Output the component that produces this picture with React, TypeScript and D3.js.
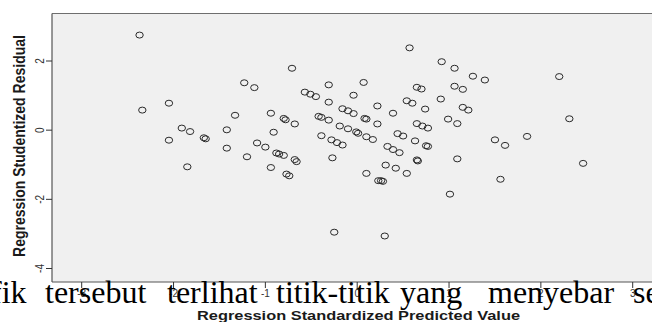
import * as d3 from 'd3'

// Standardized predicted value (x) and studentized residual (y)
const predicted = [
  -2.37, -2.34, -2.05, -2.05, -1.91, -1.82, -1.85, -1.67, -1.65, -1.42,
  -1.42, -1.33, -1.23, -1.12, -1.2, -1.09, -1.0, -0.94, -0.91, -0.94,
  -0.88, -0.85, -0.8, -0.8, -0.78, -0.68, -0.68, -0.66, -0.77, -0.74,
  -0.71, -0.57, -0.51, -0.45, -0.42, -0.39, -0.31, -0.39, -0.31, -0.31,
  -0.28, -0.22, -0.16, -0.27, -0.25, -0.19, -0.1, -0.16, -0.1, -0.04,
  -0.04, -0.01, 0.01, 0.07, 0.08, 0.1, 0.1, 0.17, 0.1, 0.22,
  0.22, 0.23, 0.26, 0.28, 0.31, 0.3, 0.33, 0.39, 0.46, 0.39,
  0.42, 0.44, 0.5, 0.54, 0.6, 0.57, 0.54, 0.63, 0.65, 0.7,
  0.65, 0.71, 0.77, 0.65, 0.66, 0.74, 0.75, 0.77, 0.92, 0.91,
  0.99, 1.09, 1.01, 1.06, 1.06, 1.15, 1.15, 1.21, 1.09, 1.26,
  1.39, 1.5, 1.61, 1.56, 1.85, 2.2, 2.31, 2.46,
]
const residual = [
  2.75, 0.58, 0.78, -0.29, 0.06, -0.04, -1.06, -0.22, -0.25, 0.01,
  -0.52, 0.43, 1.37, 1.23, -0.77, -0.37, -0.49, 0.49, -0.06, -1.08,
  -0.66, -0.69, -0.73, 0.34, 0.3, 0.18, -0.85, -0.91, -1.27, -1.32,
  1.79, 1.1, 1.04, 0.97, 0.4, 0.37, 0.29, -0.16, 1.31, 0.81,
  -0.28, -0.36, -0.43, -0.8, -2.95, 0.12, 0.04, 0.62, 0.56, 0.48,
  1.01, -0.05, -0.09, 1.38, 0.34, 0.32, -0.19, -0.27, -1.25, 0.7,
  0.18, -1.46, -1.46, -1.48, -1.01, -3.06, -0.47, -0.56, -0.65, 0.49,
  -1.1, -0.1, -0.17, 0.85, 0.78, 2.38, -1.25, -0.31, 1.24, 1.19,
  0.19, 0.12, 0.06, -0.86, -0.89, 0.61, -0.45, -0.47, 1.98, 0.9,
  0.32, 0.19, -1.85, 1.79, 1.27, 1.18, 0.66, 0.58, -0.83, 1.56,
  1.45, -0.28, -0.44, -1.42, -0.18, 1.55, 0.33, -0.96,
]
const xTicks = [-3, -2, -1, 0, 1, 2, 3]
const yTicks = [-4, -2, 0, 2]

// document text that sits over the bottom of the screenshot
const overlayWords = ['fik', 'tersebut', 'terlihat', 'titik-titik', 'yang', 'menyebar', 'se']
const overlayX = [-9, 45, 167, 276, 400, 488, 633]

const W = 652
const H = 322
const plot = { left: 52, right: 660, top: 13.5, bottom: 282 }

export default function App() {
  const x = d3.scaleLinear().domain([-3, 3]).range([81.7, 632.7])
  const y = d3.scaleLinear().domain([-4, 2]).range([268.5, 61])
  const pts = predicted.map((p, i) => ({ p, r: residual[i] }))

  return (
    <svg
      width={W}
      height={H}
      style={{ position: 'absolute', left: 0, top: 0, background: '#fff' }}
      fontFamily="'Liberation Sans', Arial, sans-serif"
    >
      <rect
        x={plot.left}
        y={plot.top}
        width={plot.right - plot.left}
        height={plot.bottom - plot.top}
        fill="#f0f0f0"
      />
      <line x1={plot.left} x2={plot.right} y1={plot.top} y2={plot.top} stroke="#6e6e6e" strokeWidth={1.2} />
      <line x1={plot.left} x2={plot.left} y1={plot.top} y2={plot.bottom} stroke="#555" strokeWidth={1.2} />
      <line x1={plot.left} x2={plot.right} y1={plot.bottom} y2={plot.bottom} stroke="#555" strokeWidth={1.2} />

      {/* markers are a little wider than tall: the screenshot was stretched sideways */}
      {pts.map((d, i) => (
        <ellipse
          key={i}
          cx={x(d.p)}
          cy={y(d.r)}
          rx={3.7}
          ry={3}
          fill="none"
          stroke="#2a2a2a"
          strokeWidth={1}
        />
      ))}

      {yTicks.map((t) => (
        <g key={t}>
          <line x1={plot.left - 6} x2={plot.left} y1={y(t)} y2={y(t)} stroke="#333" />
          <text
            transform={`translate(44,${y(t)}) rotate(-90) scale(1,1.2)`}
            textAnchor="middle"
            fontSize={10}
            fill="#333"
          >
            {t}
          </text>
        </g>
      ))}

      {xTicks.map((t) => (
        <g key={t}>
          <line x1={x(t)} x2={x(t)} y1={plot.bottom} y2={plot.bottom + 6} stroke="#333" />
          <text x={x(t)} y={297} textAnchor="middle" fontSize={10} fill="#333">
            {t}
          </text>
        </g>
      ))}

      <text
        transform="translate(25,146) rotate(-90) scale(1,1.2)"
        textAnchor="middle"
        fontSize={13.5}
        fontWeight="bold"
        fill="#1a1a1a"
        textLength={222}
        lengthAdjust="spacingAndGlyphs"
      >
        Regression Studentized Residual
      </text>
      <text
        x={197}
        y={319.5}
        fontSize={12.5}
        fontWeight="bold"
        fill="#1a1a1a"
        textLength={323}
        lengthAdjust="spacingAndGlyphs"
      >
        Regression Standardized Predicted Value
      </text>

      {overlayWords.map((w, i) => (
        <text
          key={w + i}
          x={overlayX[i]}
          y={303}
          fontFamily="'Liberation Serif', 'Times New Roman', serif"
          fontSize={32}
          fill="#000"
        >
          {w}
        </text>
      ))}
    </svg>
  )
}
